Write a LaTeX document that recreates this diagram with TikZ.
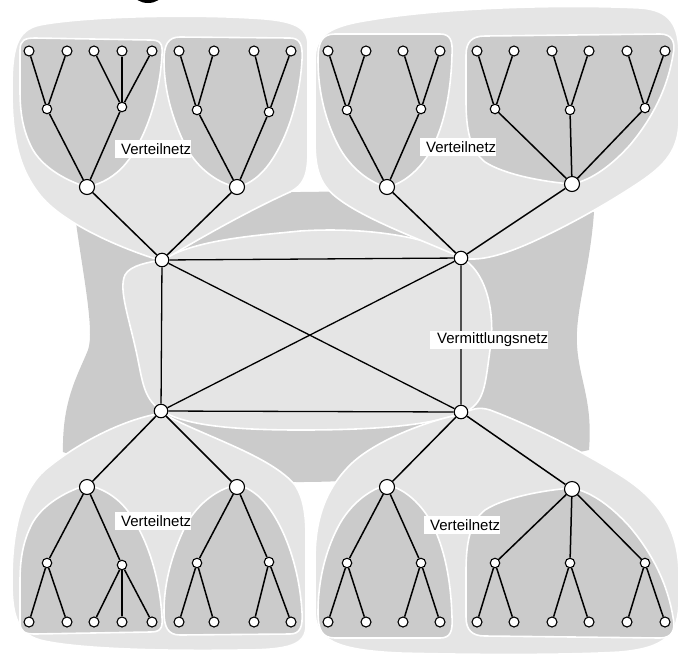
\documentclass[tikz,border=0pt]{standalone}
\usepackage{fontspec}
\setmainfont{Liberation Sans}
\definecolor{regl}{RGB}{229,229,229}
\definecolor{regd}{RGB}{203,203,203}
\begin{document}
\begin{tikzpicture}[x=1pt,y=-1pt,
  lightreg/.style={fill=regl, draw=white, line width=1.6pt, line join=round},
  darkreg/.style={fill=regd, draw=white, line width=1.6pt, line join=round},
  edge/.style={line width=1.5pt, black},
  coreedge/.style={line width=1.3pt, black},
  leaf/.style={circle, draw=black, fill=white, line width=1.1pt, inner sep=0pt, minimum size=10pt},
  midn/.style={circle, draw=black, fill=white, line width=1.1pt, inner sep=0pt, minimum size=9.5pt},
  bign/.style={circle, draw=black, fill=white, line width=1.1pt, inner sep=0pt, minimum size=15pt},
  coren/.style={circle, draw=black, fill=white, line width=1.1pt, inner sep=0pt, minimum size=13.5pt},
  lab/.style={fill=white, inner sep=0pt, minimum height=18pt, anchor=west, font=\fontsize{15}{15}\selectfont}
]
\useasboundingbox (0,0) rectangle (680,657);
\clip (0,0) rectangle (680,657);

% partial black shape at the top edge
\fill[black] (148,-6) ellipse [x radius=14pt, y radius=9pt];

% dark core blob
\fill[regd] (75,215) .. controls (150,200) and (220,194) .. (300,192)
  .. controls (400,190) and (520,198) .. (594,212)
  .. controls (590,270) and (575,310) .. (577,345)
  .. controls (579,380) and (593,400) .. (589,450)
  .. controls (500,470) and (380,482) .. (300,482)
  .. controls (200,482) and (100,465) .. (63,452)
  .. controls (62,400) and (78,375) .. (88,350)
  .. controls (95,330) and (82,270) .. (75,215) -- cycle;

% light core blob (Vermittlungsnetz)
\path[lightreg] (162,260) .. controls (195,240) and (250,236) .. (300,231)
  .. controls (360,227) and (430,235) .. (462,258)
  .. controls (490,275) and (495,320) .. (490,350)
  .. controls (485,385) and (485,405) .. (462,413)
  .. controls (430,425) and (380,430) .. (300,430)
  .. controls (230,430) and (185,425) .. (162,411)
  .. controls (145,400) and (143,385) .. (138,360)
  .. controls (130,320) and (118,290) .. (125,275)
  .. controls (130,265) and (150,262) .. (162,260) -- cycle;

% light Verteilnetz regions
\path[lightreg] (162,261) .. controls (200,238) and (250,210) .. (290,192)
  .. controls (304,185) and (308,175) .. (308,150) -- (308,45)
  .. controls (308,25) and (290,20) .. (250,18)
  .. controls (180,14) and (80,17) .. (40,25)
  .. controls (16,30) and (12,50) .. (12,90)
  .. controls (12,140) and (20,170) .. (40,195)
  .. controls (60,220) and (110,245) .. (162,261) -- cycle;

\path[lightreg] (462,258) .. controls (430,243) and (370,222) .. (340,200)
  .. controls (320,186) and (315,170) .. (315,140) -- (315,60)
  .. controls (315,35) and (330,26) .. (370,20)
  .. controls (440,8) and (560,4) .. (640,8)
  .. controls (670,10) and (679,25) .. (679,55) -- (679,120)
  .. controls (679,150) and (665,165) .. (640,182)
  .. controls (610,202) and (570,225) .. (530,243)
  .. controls (505,254) and (480,262) .. (462,258) -- cycle;

\path[lightreg] (162,413) .. controls (200,435) and (270,455) .. (295,485)
  .. controls (305,500) and (306,520) .. (306,540) -- (306,625)
  .. controls (306,645) and (290,650) .. (240,650)
  .. controls (180,651) and (80,650) .. (40,640)
  .. controls (15,633) and (12,610) .. (12,580)
  .. controls (12,530) and (22,490) .. (45,470)
  .. controls (75,445) and (120,420) .. (162,413) -- cycle;

\path[lightreg] (462,414) .. controls (430,420) and (375,440) .. (350,465)
  .. controls (325,490) and (315,520) .. (315,560) -- (315,610)
  .. controls (315,640) and (335,650) .. (400,653)
  .. controls (480,655) and (570,655) .. (620,652)
  .. controls (665,648) and (679,635) .. (679,600) -- (679,575)
  .. controls (679,530) and (660,500) .. (620,475)
  .. controls (580,450) and (530,425) .. (490,410)
  .. controls (478,406) and (470,410) .. (462,414) -- cycle;

% dark sub-regions (top, and mirrored for bottom)
\newcommand\subregions{%
\path[darkreg] (87,187) .. controls (70,182) and (45,170) .. (33,150)
  .. controls (22,130) and (20,110) .. (20,90) -- (20,50)
  .. controls (20,40) and (25,38) .. (35,38) -- (150,40)
  .. controls (160,40) and (163,43) .. (162,55)
  .. controls (160,90) and (150,125) .. (135,150)
  .. controls (125,168) and (110,182) .. (87,187) -- cycle;
\path[darkreg] (237,187) .. controls (215,183) and (195,165) .. (185,145)
  .. controls (172,118) and (164,90) .. (164,60)
  .. controls (164,45) and (168,37) .. (180,37) -- (290,38)
  .. controls (300,38) and (303,45) .. (302,60)
  .. controls (300,95) and (290,130) .. (275,155)
  .. controls (265,172) and (252,184) .. (237,187) -- cycle;
\path[darkreg] (387,187) .. controls (370,183) and (350,168) .. (338,145)
  .. controls (325,120) and (318,90) .. (318,60)
  .. controls (318,42) and (322,34) .. (335,34) -- (440,34)
  .. controls (450,34) and (453,40) .. (452,55)
  .. controls (451,90) and (445,125) .. (430,152)
  .. controls (418,172) and (402,184) .. (387,187) -- cycle;
\path[darkreg] (572,184) .. controls (545,182) and (505,175) .. (485,162)
  .. controls (470,150) and (466,130) .. (466,100) -- (466,55)
  .. controls (466,42) and (472,36) .. (485,36) -- (660,34)
  .. controls (672,34) and (676,42) .. (673,55)
  .. controls (668,85) and (655,115) .. (630,145)
  .. controls (612,165) and (592,180) .. (572,184) -- cycle;
}
\subregions
\begin{scope}[cm={1,0,0,-1,(0pt,-672pt)}]
\subregions
\end{scope}

% core nodes
\node[coren] (tl) at (162,260) {};
\node[coren] (tr) at (461,258) {};
\node[coren] (bl) at (161,411) {};
\node[coren] (br) at (461,412) {};
\draw[coreedge] (tl) -- (tr) -- (br) -- (bl) -- (tl);
\draw[coreedge] (tl) -- (br);
\draw[coreedge] (tr) -- (bl);

% big nodes
\foreach \p/\n/\x/\y in {tl/a1/87/187, tl/a2/237/187, tr/b1/387/187, tr/b2/572/184,
                         bl/c1/87/487, bl/c2/237/487, br/d1/387/487, br/d2/572/489}{
  \node[bign] (\n) at (\x,\y) {};
  \draw[edge] (\p) -- (\n);
}

% middle nodes
\foreach \p/\n/\x/\y in {a1/a1m1/47/109, a1/a1m2/122/107, a2/a2m1/197/110, a2/a2m2/269/112,
                         b1/b1m1/347/110, b1/b1m2/421/109, b2/b2m1/495/109, b2/b2m2/570/110, b2/b2m3/645/108,
                         c1/c1m1/47/563, c1/c1m2/122/565, c2/c2m1/197/563, c2/c2m2/269/562,
                         d1/d1m1/347/563, d1/d1m2/421/563, d2/d2m1/495/563, d2/d2m2/570/563, d2/d2m3/645/563}{
  \node[midn] (\n) at (\x,\y) {};
  \draw[edge] (\p) -- (\n);
}

% leaves
\foreach \p/\x/\y [count=\i] in {a1m1/29/51, a1m1/67/51, a1m2/94/51, a1m2/122/51, a1m2/152/51,
                         a2m1/179/51, a2m1/214/51, a2m2/254/51, a2m2/291/51,
                         b1m1/328/51, b1m1/366/51, b1m2/403/51, b1m2/440/51,
                         b2m1/477/51, b2m1/514/51, b2m2/552/51, b2m2/589/51, b2m3/627/51, b2m3/665/51,
                         c1m1/29/622, c1m1/67/622, c1m2/94/622, c1m2/122/622, c1m2/152/622,
                         c2m1/179/622, c2m1/214/622, c2m2/254/622, c2m2/291/622,
                         d1m1/328/622, d1m1/366/622, d1m2/403/622, d1m2/440/622,
                         d2m1/477/622, d2m1/514/622, d2m2/552/622, d2m2/589/622, d2m3/627/622, d2m3/665/622}{
  \node[leaf] (leaf\i) at (\x,\y) {};
  \draw[edge] (\p) -- (leaf\i);
}

% labels
\node[lab] (l1) at (115,149) {\hspace{6pt}Verteilnetz\hspace{10pt}};
\node[lab] (l2) at (420,147) {\hspace{6pt}Verteilnetz\hspace{10pt}};
\node[lab] (l3) at (115,521) {\hspace{6pt}Verteilnetz\hspace{10pt}};
\node[lab] (l4) at (424,525) {\hspace{6pt}Verteilnetz\hspace{10pt}};
\node[lab] (l5) at (430,340) {\hspace{7pt}Vermittlungsnetz\hspace{12pt}};
\end{tikzpicture}
\end{document}
